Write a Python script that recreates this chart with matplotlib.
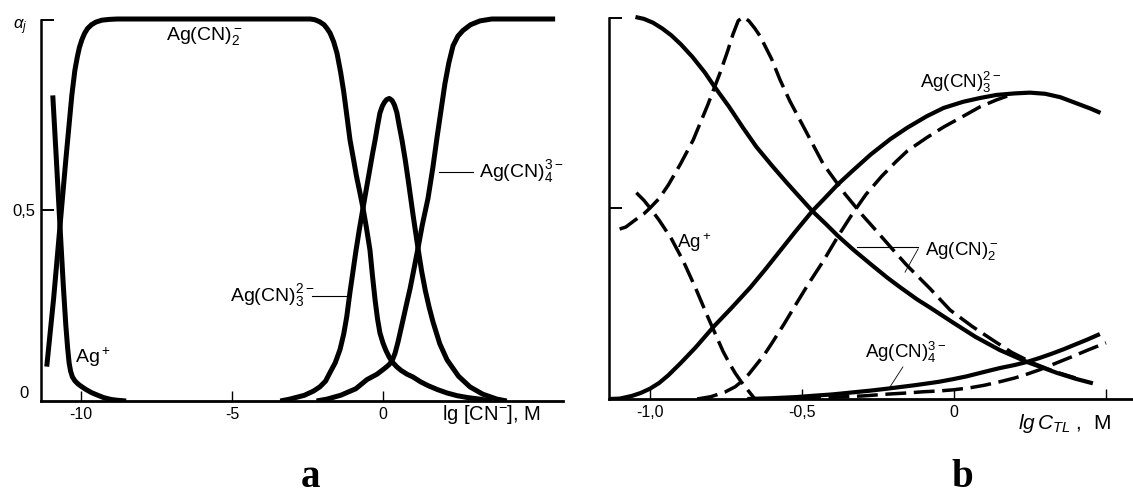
import matplotlib
matplotlib.use("Agg")
import matplotlib.pyplot as plt

plt.rcParams['font.family'] = ['Liberation Sans', 'DejaVu Sans']
plt.rcParams['mathtext.fontset'] = 'custom'
plt.rcParams['mathtext.rm'] = 'Liberation Sans'
plt.rcParams['mathtext.it'] = 'Liberation Sans:italic'
plt.rcParams['mathtext.bf'] = 'Liberation Sans:bold'
plt.rcParams['lines.scale_dashes'] = False

# ---------------------------
# Panel a: alpha_j vs lg[CN-]
# ---------------------------
a_ag_x = [-10.93, -10.81, -10.70, -10.58, -10.50, -10.44, -10.39, -10.34, -10.28,
          -10.20, -10.10, -10.00, -9.85, -9.65, -9.47, -9.25, -9.00, -8.80, -8.50]
a_ag_y = [0.80, 0.63, 0.47, 0.30, 0.20, 0.14, 0.10, 0.078, 0.063,
          0.053, 0.045, 0.039, 0.031, 0.022, 0.016, 0.009, 0.004, 0.002, 0.0]

a_cn2_x = [-11.13, -10.90, -10.70, -10.50, -10.30, -10.20, -10.12, -10.05, -9.97,
           -9.88, -9.78, -9.65, -9.50, -9.30, -9.05, -8.80, -7.0, -4.0, -2.40,
           -2.25, -2.10, -1.95, -1.85, -1.75, -1.63, -1.52, -1.40, -1.30, -1.20,
           -1.09, -0.98, -0.88, -0.77, -0.66, -0.55, -0.43, -0.35, -0.26, -0.18,
           -0.10, 0.00, 0.10, 0.20, 0.30, 0.45, 0.60, 0.80, 0.99, 1.25, 1.50,
           1.80, 2.12, 2.45, 2.80, 3.20, 3.60]
a_cn2_y = [0.09, 0.27, 0.45, 0.63, 0.80, 0.865, 0.90, 0.925, 0.945,
           0.962, 0.975, 0.985, 0.992, 0.997, 0.999, 1.0, 1.0, 1.0, 1.0,
           0.998, 0.993, 0.985, 0.975, 0.963, 0.94, 0.91, 0.86, 0.81, 0.75,
           0.683, 0.635, 0.59, 0.548, 0.505, 0.455, 0.395, 0.33, 0.264, 0.215,
           0.178, 0.152, 0.132, 0.116, 0.103, 0.09, 0.08, 0.07, 0.063, 0.05, 0.04,
           0.03, 0.021, 0.014, 0.009, 0.005, 0.0]

a_cn3_x = [-3.40, -3.08, -2.60, -2.30, -2.09, -1.90, -1.75, -1.58, -1.42, -1.30,
           -1.20, -1.09, -1.00, -0.90, -0.78, -0.66, -0.55, -0.45, -0.35, -0.26,
           -0.18, -0.10, -0.02, 0.05, 0.12, 0.21, 0.30, 0.38, 0.46, 0.54,
           0.63, 0.74, 0.85, 1.00, 1.16, 1.28, 1.40, 1.53, 1.66, 1.88,
           2.12, 2.50, 2.88, 3.30, 3.77, 4.10]
a_cn3_y = [0.0, 0.005, 0.015, 0.026, 0.037, 0.052, 0.075, 0.10, 0.135, 0.175,
           0.22, 0.286, 0.335, 0.39, 0.45, 0.505, 0.555, 0.60, 0.645, 0.683,
           0.72, 0.754, 0.772, 0.782, 0.789, 0.792, 0.787, 0.775, 0.755, 0.72,
           0.683, 0.63, 0.57, 0.485, 0.40, 0.34, 0.29, 0.245, 0.206, 0.15,
           0.108, 0.065, 0.037, 0.018, 0.005, 0.0]

a_cn4_x = [-2.20, -1.85, -1.40, -0.90, -0.53, -0.20, 0.05, 0.20, 0.30, 0.40,
           0.50, 0.60, 0.70, 0.79, 0.90, 1.00, 1.16, 1.30, 1.49, 1.65,
           1.79, 1.92, 2.05, 2.18, 2.32, 2.48, 2.65, 2.90, 3.21, 3.60,
           4.50, 5.70]
a_cn4_y = [0.0, 0.005, 0.015, 0.032, 0.056, 0.07, 0.085, 0.095, 0.105, 0.125,
           0.155, 0.19, 0.225, 0.257, 0.295, 0.335, 0.40, 0.46, 0.53, 0.61,
           0.69, 0.76, 0.83, 0.885, 0.93, 0.955, 0.97, 0.985, 0.995, 1.0,
           1.0, 1.0]

a_xticks = [-10, -5, 0]
a_xticklabels = ['-10', '-5', '0']

# ---------------------------
# Panel b: alpha_j vs lg C_TL (solid and dashed)
# ---------------------------
b_cn2_x = [-1.048, -1.02, -0.99, -0.96, -0.93, -0.898, -0.86, -0.82, -0.79, -0.74,
           -0.694, -0.65, -0.60, -0.55, -0.50, -0.466, -0.42, -0.382, -0.33, -0.274,
           -0.22, -0.178, -0.12, -0.08, -0.003, 0.07, 0.151, 0.24, 0.34, 0.40, 0.457]
b_cn2_y = [1.0, 0.995, 0.985, 0.97, 0.952, 0.928, 0.895, 0.855, 0.82, 0.765,
           0.71, 0.66, 0.612, 0.566, 0.522, 0.492, 0.457, 0.427, 0.39, 0.353,
           0.318, 0.293, 0.26, 0.24, 0.20, 0.163, 0.128, 0.097, 0.068, 0.053, 0.041]

b_cn2d_x = [-1.10, -1.08, -1.05, -1.02, -1.00, -0.97, -0.94, -0.90, -0.858, -0.81,
            -0.77, -0.745, -0.727, -0.71, -0.694, -0.675, -0.655, -0.638, -0.60, -0.572,
            -0.54, -0.50, -0.43, -0.358, -0.30, -0.274, -0.20, -0.155, -0.08, -0.013,
            0.06, 0.128, 0.19, 0.26, 0.33, 0.40]
b_cn2d_y = [0.445, 0.45, 0.468, 0.485, 0.50, 0.525, 0.56, 0.615, 0.678, 0.77,
            0.853, 0.91, 0.955, 0.99, 1.0, 0.99, 0.97, 0.95, 0.89, 0.835,
            0.78, 0.72, 0.615, 0.536, 0.48, 0.457, 0.39, 0.35, 0.29, 0.233,
            0.19, 0.154, 0.122, 0.094, 0.072, 0.055]

b_cn3_x = [-1.135, -1.10, -1.06, -1.03, -1.00, -0.97, -0.94, -0.898, -0.85, -0.79,
           -0.73, -0.67, -0.62, -0.57, -0.52, -0.466, -0.42, -0.382, -0.33, -0.274,
           -0.21, -0.154, -0.09, -0.034, 0.03, 0.086, 0.14, 0.20, 0.25, 0.30,
           0.35, 0.41, 0.45, 0.482]
b_cn3_y = [0.0, 0.001, 0.008, 0.016, 0.027, 0.042, 0.062, 0.095, 0.135, 0.19,
           0.24, 0.292, 0.34, 0.39, 0.44, 0.492, 0.53, 0.562, 0.60, 0.64,
           0.68, 0.71, 0.74, 0.762, 0.778, 0.788, 0.796, 0.80, 0.802, 0.799,
           0.79, 0.772, 0.76, 0.749]

b_cn3d_x = [-0.845, -0.80, -0.754, -0.72, -0.70, -0.675, -0.65, -0.625, -0.60, -0.56,
            -0.526, -0.48, -0.43, -0.38, -0.334, -0.29, -0.238, -0.19, -0.154, -0.09,
            -0.034, 0.03, 0.086, 0.14, 0.182]
b_cn3d_y = [0.0, 0.006, 0.018, 0.032, 0.045, 0.065, 0.09, 0.115, 0.145, 0.195,
            0.24, 0.30, 0.361, 0.428, 0.485, 0.535, 0.583, 0.622, 0.649, 0.684,
            0.712, 0.74, 0.765, 0.783, 0.795]

b_agd_x = [-1.045, -1.02, -1.00, -0.97, -0.93, -0.89, -0.85, -0.81, -0.785, -0.76,
           -0.74, -0.72, -0.70, -0.685, -0.67, -0.655]
b_agd_y = [0.54, 0.52, 0.50, 0.468, 0.42, 0.36, 0.29, 0.215, 0.17, 0.125,
           0.095, 0.068, 0.045, 0.03, 0.015, 0.0]

b_cn4_x = [-0.68, -0.60, -0.52, -0.454, -0.40, -0.35, -0.274, -0.22, -0.18, -0.13,
           -0.094, -0.05, -0.003, 0.04, 0.08, 0.12, 0.151, 0.20, 0.24, 0.28,
           0.32, 0.36, 0.40, 0.44, 0.48]
b_cn4_y = [0.0, 0.002, 0.005, 0.009, 0.012, 0.016, 0.022, 0.027, 0.031, 0.036,
           0.040, 0.045, 0.052, 0.059, 0.067, 0.075, 0.081, 0.089, 0.097, 0.107,
           0.118, 0.13, 0.143, 0.156, 0.17]

b_cn4d_x = [-0.60, -0.45, -0.30, -0.214, -0.15, -0.10, -0.05, -0.003, 0.05, 0.10,
            0.15, 0.20, 0.24, 0.28, 0.33, 0.386, 0.44, 0.50]
b_cn4d_y = [0.0, 0.003, 0.008, 0.013, 0.016, 0.019, 0.021, 0.024, 0.029, 0.036,
            0.045, 0.055, 0.065, 0.076, 0.092, 0.11, 0.128, 0.147]

b_xticks = [-1.0, -0.5, 0.0, 0.5]
b_xticklabels = ['-1,0', '-0,5', '0', '']

# ---------------------------
# Figure
# ---------------------------
W, H = 1133, 498
fig = plt.figure(figsize=(W / 100, H / 100), dpi=100)

axL = fig.add_axes([41 / W, 1 - 401 / H, 522 / W, 401 / H])
axR = fig.add_axes([609 / W, 1 - 399 / H, 524 / W, 399 / H])
axL.set_xlim(-11.32, 5.96)
axL.set_ylim(0, 401 / 382)
axR.set_xlim(-1.135, 0.589)
axR.set_ylim(0, 399 / 382)

for ax in (axL, axR):
    ax.patch.set_visible(False)
    ax.spines['top'].set_visible(False)
    ax.spines['right'].set_visible(False)
    ax.spines['left'].set_linewidth(1.8)
    ax.spines['bottom'].set_linewidth(2.0)
    ax.spines['left'].set_bounds(0, 0.998)
    ax.tick_params(axis='y', direction='in', length=9, width=1.4, labelsize=12, pad=4)
    ax.tick_params(axis='x', direction='in', length=7, width=1.0, labelsize=11.5, pad=4)

axL.set_yticks([0.5, 0.998], ['0,5', ''])
axL.set_xticks(a_xticks, a_xticklabels)
axR.set_yticks([0.5, 0.998], ['', ''])
axR.set_xticks(b_xticks, b_xticklabels)

lw_a = 3.6
kw = dict(color='black', solid_capstyle='butt', solid_joinstyle='round')
axL.plot(a_ag_x, a_ag_y, lw=lw_a, **kw)
axL.plot(a_cn2_x, a_cn2_y, lw=lw_a, **kw)
axL.plot(a_cn3_x, a_cn3_y, lw=lw_a, **kw)
axL.plot(a_cn4_x, a_cn4_y, lw=lw_a, **kw)

lw_s, lw_d = 3.0, 2.5
dash = (0, (15, 5.5))
dkw = dict(color='black', ls=dash, dash_capstyle='butt', dash_joinstyle='round')
axR.plot(b_cn2_x, b_cn2_y, lw=lw_s, **kw)
axR.plot(b_cn3_x, b_cn3_y, lw=lw_s, **kw)
axR.plot(b_cn4_x, b_cn4_y, lw=lw_s, **kw)
axR.plot(b_cn2d_x, b_cn2d_y, lw=lw_d, **dkw)
axR.plot(b_cn3d_x, b_cn3d_y, lw=lw_d, **dkw)
axR.plot(b_agd_x, b_agd_y, lw=lw_d, **dkw)
axR.plot(b_cn4d_x, b_cn4d_y, lw=lw_d, **dkw)

# species labels and leader lines
fs_a, fs_b = 14, 13.5
axL.text(-7.19, 0.945, r'Ag(CN)$_2^-$', fontsize=fs_a, va='baseline')
axL.text(3.18, 0.586, r'Ag(CN)$_4^{3-}$', fontsize=fs_a, va='baseline')
axL.plot([1.86, 2.98], [0.60, 0.60], color='black', lw=0.8)
axL.text(-5.07, 0.262, r'Ag(CN)$_3^{2-}$', fontsize=fs_a, va='baseline')
axL.plot([-2.35, -1.19], [0.275, 0.275], color='black', lw=0.8)
axL.text(-10.2, 0.10, r'Ag$^+$', fontsize=fs_a, va='baseline')

axR.text(-0.112, 0.815, r'Ag(CN)$_3^{2-}$', fontsize=fs_b, va='baseline')
axR.text(-0.911, 0.395, r'Ag$^+$', fontsize=fs_b, va='baseline')
axR.text(-0.095, 0.377, r'Ag(CN)$_2^-$', fontsize=fs_b, va='baseline')
axR.plot([-0.319, -0.118], [0.398, 0.398], color='black', lw=0.8)
axR.plot([-0.118, -0.161], [0.393, 0.332], color='black', lw=0.6)
axR.text(-0.293, 0.107, r'Ag(CN)$_4^{3-}$', fontsize=fs_b, va='baseline')
axR.plot([-0.168, -0.211], [0.084, 0.031], color='black', lw=0.6)

# axis labels
axL.text(1.95, -0.047, r'lg [CN$^{-}$], M', transform=axL.get_xaxis_transform(),
         fontsize=14.5, va='baseline', ha='left')
axR.text(0.211, -0.075, r'$lg\,C_{TL}$ ,  M', transform=axR.get_xaxis_transform(),
         fontsize=15, va='baseline', ha='left')
fig.text(13 / W, 1 - 29 / H, r'$\alpha_j$', fontsize=12, va='baseline')
fig.text(29 / W, 1 - 393 / H, '0', fontsize=12, va='center', ha='right')

# panel letters
fig.text(311 / W, 1 - 487 / H, 'a', family='Liberation Serif', weight='bold',
         fontsize=28, ha='center', va='baseline')
fig.text(962 / W, 1 - 487 / H, 'b', family='Liberation Serif', weight='bold',
         fontsize=28, ha='center', va='baseline')

fig.savefig('out.png', dpi=100)
